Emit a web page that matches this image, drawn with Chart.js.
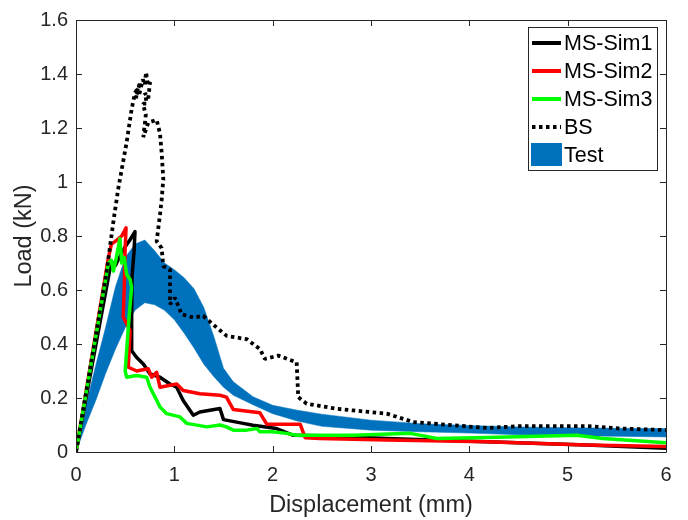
<!DOCTYPE html>
<html><head><meta charset="utf-8">
<script src="https://cdn.jsdelivr.net/npm/chart.js@4.4.0/dist/chart.umd.min.js"></script>
<style>html,body{margin:0;padding:0;background:#fff;} canvas{display:block;}</style>
</head><body>
<canvas id="c" width="688" height="520"></canvas>
<script>
const xTicks = [0, 1, 2, 3, 4, 5, 6];
const yTicks = [0, 0.2, 0.4, 0.6, 0.8, 1, 1.2, 1.4, 1.6];
const seriesNames = ['MS-Sim1', 'MS-Sim2', 'MS-Sim3', 'BS', 'Test'];
const xTitle = 'Displacement (mm)';
const yTitle = 'Load (kN)';

const sim1X = [0, 0.346, 0.38, 0.40, 0.44, 0.47, 0.50, 0.55, 0.60, 0.59, 0.57, 0.566, 0.566, 0.617, 0.685, 0.753, 0.854, 0.956, 1.024, 1.09, 1.193, 1.26, 1.464, 1.50, 1.70, 1.80, 2.04, 2.21, 2.48, 3.16, 4.18, 5.19, 6.0];
const sim1Y = [0, 0.68, 0.70, 0.69, 0.72, 0.74, 0.76, 0.786, 0.816, 0.74, 0.65, 0.50, 0.375, 0.35, 0.326, 0.289, 0.277, 0.252, 0.24, 0.191, 0.136, 0.148, 0.161, 0.12, 0.106, 0.099, 0.087, 0.062, 0.06, 0.05, 0.038, 0.026, 0.014];

const sim2X = [0, 0.33, 0.36, 0.40, 0.465, 0.509, 0.50, 0.49, 0.48, 0.55, 0.532, 0.617, 0.735, 0.77, 0.82, 0.854, 1.024, 1.09, 1.26, 1.464, 1.53, 1.60, 1.87, 1.94, 2.28, 2.33, 2.48, 3.16, 4.18, 5.19, 6.0];
const sim2Y = [0, 0.72, 0.77, 0.78, 0.80, 0.83, 0.755, 0.60, 0.50, 0.45, 0.314, 0.30, 0.308, 0.277, 0.295, 0.24, 0.252, 0.228, 0.216, 0.21, 0.203, 0.157, 0.145, 0.103, 0.103, 0.053, 0.05, 0.044, 0.038, 0.026, 0.02];

const sim3X = [0, 0.33, 0.36, 0.38, 0.41, 0.447, 0.465, 0.49, 0.515, 0.55, 0.565, 0.54, 0.50, 0.515, 0.617, 0.719, 0.753, 0.854, 0.922, 1.058, 1.126, 1.33, 1.464, 1.53, 1.6, 1.736, 1.84, 1.87, 2.0, 2.14, 2.24, 2.82, 3.40, 3.67, 4.18, 5.09, 5.36, 6.0];
const sim3Y = [0, 0.70, 0.71, 0.67, 0.72, 0.79, 0.70, 0.72, 0.657, 0.64, 0.61, 0.50, 0.30, 0.277, 0.283, 0.277, 0.24, 0.167, 0.142, 0.13, 0.106, 0.093, 0.1, 0.093, 0.081, 0.081, 0.087, 0.075, 0.075, 0.069, 0.062, 0.062, 0.069, 0.05, 0.054, 0.062, 0.05, 0.034];

const bsX = [0, 0.312, 0.38, 0.43, 0.515, 0.566, 0.60, 0.63, 0.61, 0.65, 0.64, 0.68, 0.70, 0.712, 0.73, 0.753, 0.735, 0.70, 0.72, 0.68, 0.71, 0.685, 0.735, 0.82, 0.854, 0.871, 0.888, 0.87, 0.854, 0.827, 0.82, 0.871, 0.888, 0.956, 0.956, 1.007, 1.075, 1.193, 1.295, 1.43, 1.533, 1.736, 1.871, 1.92, 2.057, 2.244, 2.26, 2.346, 2.65, 2.82, 3.16, 3.43, 3.84, 4.18, 4.515, 5.19, 5.53, 6.0];
const bsY = [0, 0.669, 0.853, 0.976, 1.147, 1.27, 1.33, 1.35, 1.31, 1.37, 1.32, 1.38, 1.36, 1.407, 1.36, 1.37, 1.31, 1.33, 1.29, 1.29, 1.25, 1.166, 1.22, 1.23, 1.18, 1.11, 1.01, 0.93, 0.878, 0.80, 0.78, 0.755, 0.688, 0.676, 0.547, 0.571, 0.51, 0.498, 0.504, 0.461, 0.43, 0.418, 0.381, 0.345, 0.357, 0.332, 0.203, 0.179, 0.16, 0.154, 0.142, 0.111, 0.099, 0.089, 0.096, 0.096, 0.087, 0.081];

const testX = [0, 0.05, 0.1, 0.2, 0.3, 0.4, 0.5, 0.6, 0.7, 0.8, 0.9, 1.0, 1.1, 1.2, 1.3, 1.4, 1.5, 1.6, 1.8, 2.0, 2.25, 2.5, 3.0, 3.5, 4.0, 4.5, 5.0, 5.5, 6.0];
const testUpper = [0, 0.09, 0.17, 0.32, 0.46, 0.61, 0.72, 0.77, 0.785, 0.745, 0.70, 0.675, 0.645, 0.605, 0.535, 0.43, 0.31, 0.26, 0.205, 0.173, 0.155, 0.14, 0.118, 0.105, 0.098, 0.093, 0.09, 0.088, 0.087];
const testLower = [0, 0.05, 0.10, 0.19, 0.29, 0.38, 0.46, 0.525, 0.553, 0.545, 0.525, 0.49, 0.44, 0.385, 0.325, 0.28, 0.24, 0.21, 0.175, 0.142, 0.115, 0.095, 0.081, 0.075, 0.07, 0.064, 0.06, 0.058, 0.056];

const pts = (xs, ys) => xs.map((x, i) => ({x: x, y: ys[i]}));
const FONT = 'Liberation Sans, Arial, sans-serif';
const TXT = '#262626';

const frameTicks = {
  id: 'frameTicks',
  afterDatasetsDraw(chart) {
    const {ctx, chartArea: a, scales} = chart;
    ctx.save();
    ctx.strokeStyle = TXT; ctx.lineWidth = 1;
    ctx.beginPath();
    ctx.rect(Math.round(a.left) + 0.5, Math.round(a.top) + 0.5, Math.round(a.right - a.left), Math.round(a.bottom - a.top));
    const L = 6;
    xTicks.forEach(v => {
      const px = Math.round(scales.x.getPixelForValue(v)) + 0.5;
      ctx.moveTo(px, a.bottom); ctx.lineTo(px, a.bottom - L);
      ctx.moveTo(px, a.top); ctx.lineTo(px, a.top + L);
    });
    yTicks.forEach(v => {
      const py = Math.round(scales.y.getPixelForValue(v)) + 0.5;
      ctx.moveTo(a.left, py); ctx.lineTo(a.left + L, py);
      ctx.moveTo(a.right, py); ctx.lineTo(a.right - L, py);
    });
    ctx.stroke();
    ctx.restore();
  },
  afterDraw(chart) {
    const {ctx} = chart;
    const bx = 528.5, by = 27.5, bw = 129, bh = 143;
    ctx.save();
    ctx.fillStyle = '#fff';
    ctx.fillRect(bx, by, bw, bh);
    ctx.strokeStyle = TXT; ctx.lineWidth = 1;
    ctx.strokeRect(bx, by, bw, bh);
    const rows = [43, 71, 99, 127, 155];
    [0, 1, 2, 3, 4].forEach((di, i) => {
      const ds = chart.data.datasets[di];
      const y = rows[i];
      if (di === 4) {
        ctx.fillStyle = ds.backgroundColor;
        ctx.fillRect(531, y - 12, 31, 23);
      } else {
        ctx.strokeStyle = ds.borderColor;
        ctx.lineWidth = 4;
        ctx.setLineDash(ds.borderDash || []);
        ctx.lineCap = 'butt';
        ctx.beginPath(); ctx.moveTo(532, y); ctx.lineTo(561, y); ctx.stroke();
        ctx.setLineDash([]);
      }
      ctx.fillStyle = '#000';
      ctx.font = '21.5px ' + FONT;
      ctx.textBaseline = 'middle';
      ctx.textAlign = 'left';
      ctx.fillText(seriesNames[i], 564, y + 1);
    });
    ctx.restore();
  }
};

new Chart(document.getElementById('c'), {
  type: 'scatter',
  data: {
    datasets: [
      {label: seriesNames[0], data: pts(sim1X, sim1Y), showLine: true, borderColor: '#000000', backgroundColor: '#000000', borderWidth: 3.5, pointRadius: 0, borderJoinStyle: 'round', order: 3},
      {label: seriesNames[1], data: pts(sim2X, sim2Y), showLine: true, borderColor: '#FF0000', backgroundColor: '#FF0000', borderWidth: 3.5, pointRadius: 0, borderJoinStyle: 'round', order: 2},
      {label: seriesNames[2], data: pts(sim3X, sim3Y), showLine: true, borderColor: '#00FF00', backgroundColor: '#00FF00', borderWidth: 3.5, pointRadius: 0, borderJoinStyle: 'round', order: 1},
      {label: seriesNames[3], data: pts(bsX, bsY), showLine: true, borderColor: '#000000', backgroundColor: '#000000', borderWidth: 3.8, borderDash: [3.5, 3.5], borderCapStyle: 'butt', borderJoinStyle: 'bevel', pointRadius: 0, order: 0},
      {label: seriesNames[4], data: pts(testX, testUpper), showLine: true, borderColor: '#0072BD', backgroundColor: '#0072BD', borderWidth: 0.5, pointRadius: 0, fill: '+1', order: 5},
      {label: seriesNames[4] + ' lower', data: pts(testX, testLower), showLine: true, borderColor: '#0072BD', backgroundColor: '#0072BD', borderWidth: 0.5, pointRadius: 0, fill: false, order: 6}
    ]
  },
  options: {
    responsive: false,
    animation: false,
    devicePixelRatio: 1,
    layout: {padding: {left: 0, top: 17, right: 22, bottom: 0}},
    plugins: {
      legend: {display: false},
      tooltip: {enabled: false},
      filler: {drawTime: 'beforeDatasetsDraw'}
    },
    scales: {
      x: {
        type: 'linear', min: 0, max: 6,
        afterBuildTicks: s => { s.ticks = xTicks.map(v => ({value: v})); },
        afterFit: s => { s.height = 68; },
        grid: {display: false, drawTicks: false},
        border: {display: false},
        ticks: {font: {family: FONT, size: 20}, color: TXT, padding: 11, maxRotation: 0, callback: v => String(v)},
        title: {display: true, text: xTitle, font: {family: FONT, size: 23.5}, color: TXT, padding: {top: 5, bottom: 0}}
      },
      y: {
        type: 'linear', min: 0, max: 1.6,
        afterBuildTicks: s => { s.ticks = yTicks.map(v => ({value: v})); },
        afterFit: s => { s.width = 76; },
        grid: {display: false, drawTicks: false},
        border: {display: false},
        ticks: {font: {family: FONT, size: 20}, color: TXT, padding: 8, callback: v => String(v)},
        title: {display: true, text: yTitle, font: {family: FONT, size: 23.5}, color: TXT, padding: {top: 10, bottom: 0}}
      }
    }
  },
  plugins: [frameTicks]
});
</script>
</body></html>
